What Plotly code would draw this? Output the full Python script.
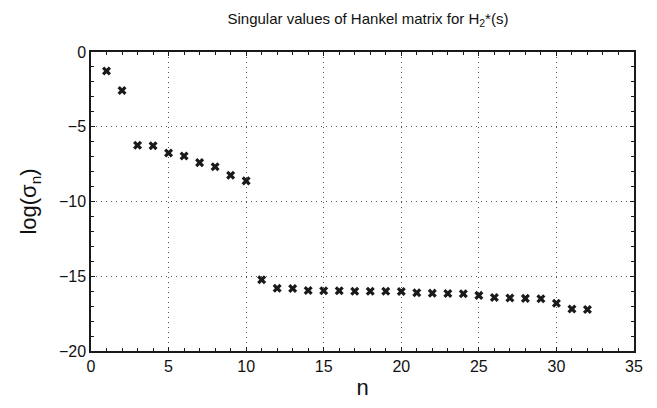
import plotly.graph_objects as go

# Hankel singular values (log scale) for H2*(s), index n = 1..32
n_index = list(range(1, 33))
log_sigma = [
    -1.27, -2.58, -6.24, -6.27, -6.76, -6.96, -7.40, -7.67, -8.24, -8.62,
    -15.24, -15.80, -15.82, -15.95, -15.97, -15.97, -16.00, -16.00, -16.00, -16.02,
    -16.10, -16.13, -16.15, -16.17, -16.28, -16.42, -16.46, -16.48, -16.50, -16.80,
    -17.19, -17.23,
]

x_ticks = [0, 5, 10, 15, 20, 25, 30, 35]
y_ticks = [0, -5, -10, -15, -20]

font_family = "Liberation Sans, Arial, Helvetica, sans-serif"
ink = "#1a1a1a"

fig = go.Figure(
    go.Scatter(
        x=n_index,
        y=log_sigma,
        mode="markers",
        marker=dict(symbol="x", size=8, color=ink, line=dict(width=0)),
        showlegend=False,
    )
)

axis_common = dict(
    showline=True,
    linecolor=ink,
    linewidth=1.5,
    mirror="ticks",
    ticks="inside",
    ticklen=4,
    tickwidth=1,
    tickcolor=ink,
    showgrid=True,
    gridcolor="#555555",
    gridwidth=1,
    griddash="1px,4px",
    zeroline=False,
    tickfont=dict(family=font_family, size=16, color="#111111"),
)

fig.update_xaxes(
    range=[0, 35],
    tickvals=x_ticks,
    minor=dict(dtick=1, ticks="inside", ticklen=3, tickcolor=ink, showgrid=False),
    title=dict(text="n", font=dict(family=font_family, size=22, color="#111111"), standoff=6),
    **axis_common,
)
fig.update_yaxes(
    range=[-20, 0],
    tickvals=y_ticks,
    minor=dict(dtick=1, ticks="inside", ticklen=3, tickcolor=ink, showgrid=False),
    title=dict(text="log(σ<sub>n</sub>)", font=dict(family=font_family, size=22, color="#111111"), standoff=16),
    **axis_common,
)

fig.update_layout(
    width=657,
    height=408,
    margin=dict(l=91, r=23, t=52, b=54),
    paper_bgcolor="white",
    plot_bgcolor="white",
    title=dict(
        text="Singular values of Hankel matrix for H<sub>2</sub>*(s)",
        x=0.51,
        xref="paper",
        xanchor="center",
        y=0.955,
        yanchor="middle",
        font=dict(family=font_family, size=15, color="#111111"),
    ),
)

fig.write_html("out.html")
